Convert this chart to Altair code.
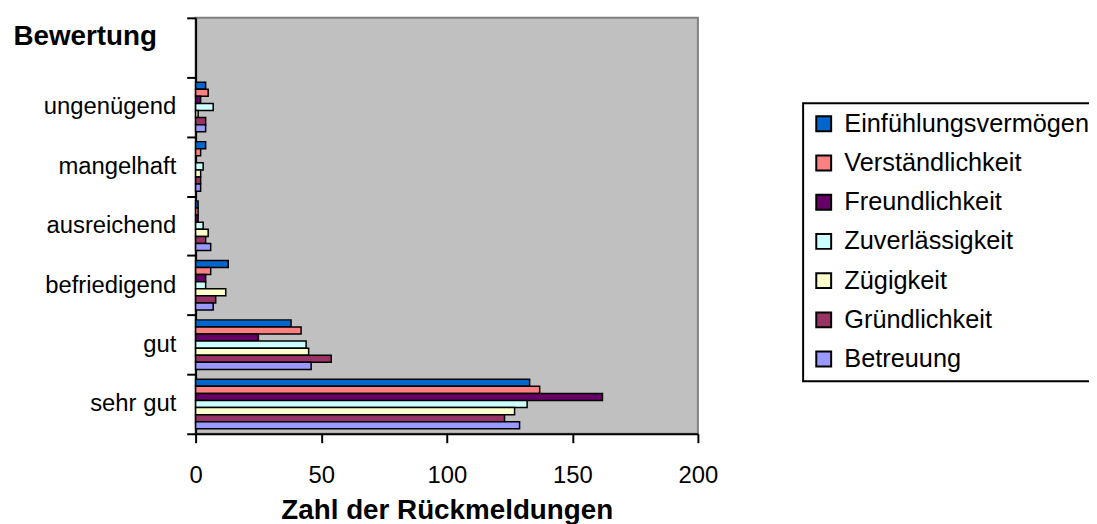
import altair as alt
import pandas as pd

categories = ["sehr gut", "gut", "befriedigend", "ausreichend", "mangelhaft", "ungenügend"]
series = ["Einfühlungsvermögen", "Verständlichkeit", "Freundlichkeit",
          "Zuverlässigkeit", "Zügigkeit", "Gründlichkeit", "Betreuung"]
colors = ["#0066CC", "#FF8080", "#660066", "#CCFFFF", "#FFFFCC", "#993366", "#9999FF"]

# values per series, in the order of `categories`
einfuehlung = [133, 38, 13, 1, 4, 4]
verstaendlichkeit = [137, 42, 6, 1, 2, 5]
freundlichkeit = [162, 25, 4, 1, 0, 2]
zuverlaessigkeit = [132, 44, 4, 3, 3, 7]
zuegigkeit = [127, 45, 12, 5, 2, 1]
gruendlichkeit = [123, 54, 8, 4, 2, 4]
betreuung = [129, 46, 7, 6, 2, 4]

values = [einfuehlung, verstaendlichkeit, freundlichkeit, zuverlaessigkeit,
          zuegigkeit, gruendlichkeit, betreuung]

rows = []
for s, vals in zip(series, values):
    for c, v in zip(categories, vals):
        rows.append({"Bewertung": c, "Merkmal": s, "Zahl": v})
df = pd.DataFrame(rows)

y_domain = [" "] + categories[::-1]

FONT = "Liberation Sans"

chart = alt.Chart(df).mark_bar(stroke="black", strokeWidth=1.5).encode(
    x=alt.X("Zahl:Q",
            scale=alt.Scale(domain=[0, 200], nice=False),
            axis=alt.Axis(values=[0, 50, 100, 150, 200], title="Zahl der Rückmeldungen",
                          grid=False, tickSize=9, tickWidth=2, tickColor="black",
                          domainColor="black", domainWidth=2,
                          labelFont=FONT, labelFontSize=24, labelColor="black",
                          labelBaseline="alphabetic", labelPadding=40, labelFlush=False,
                          titleFont=FONT, titleFontSize=28, titleFontWeight="bold",
                          titleColor="black", titleBaseline="alphabetic", titleY=85)),
    y=alt.Y("Bewertung:N",
            scale=alt.Scale(domain=y_domain, paddingInner=0, paddingOuter=0),
            sort=y_domain,
            axis=alt.Axis(title="Bewertung", titleAngle=0, titleAlign="left",
                          titleBaseline="alphabetic", titleX=-184, titleY=27,
                          titleFont=FONT, titleFontSize=28, titleFontWeight="bold",
                          titleColor="black",
                          tickBand="extent", tickSize=9, tickWidth=2, tickColor="black",
                          domainColor="black", domainWidth=2,
                          labelFont=FONT, labelFontSize=24, labelColor="black",
                          labelPadding=11)),
    yOffset=alt.YOffset("Merkmal:N",
                        scale=alt.Scale(domain=series, paddingInner=0, paddingOuter=0.7),
                        sort=series),
    color=alt.Color("Merkmal:N",
                    scale=alt.Scale(domain=series, range=colors),
                    sort=series,
                    legend=alt.Legend(title=None, orient="none", legendX=612, legendY=86,
                                      padding=8, strokeColor="black",
                                      labelFont=FONT, labelFontSize=25.5, labelColor="black",
                                      labelLimit=500, labelOffset=8,
                                      symbolType="square", symbolSize=225,
                                      symbolStrokeColor="black", symbolStrokeWidth=2,
                                      rowPadding=12.5)),
).properties(
    width=506,
    height=419,
    autosize=alt.AutoSizeParams(type="none"),
    padding={"left": 189, "top": 8, "right": 394, "bottom": 89},
).configure_view(
    fill="#C0C0C0", stroke="#808080", strokeWidth=2
).configure_legend(
    strokeWidth=2
)

chart.save("out.html", embed_options={"renderer": "svg", "actions": False})
